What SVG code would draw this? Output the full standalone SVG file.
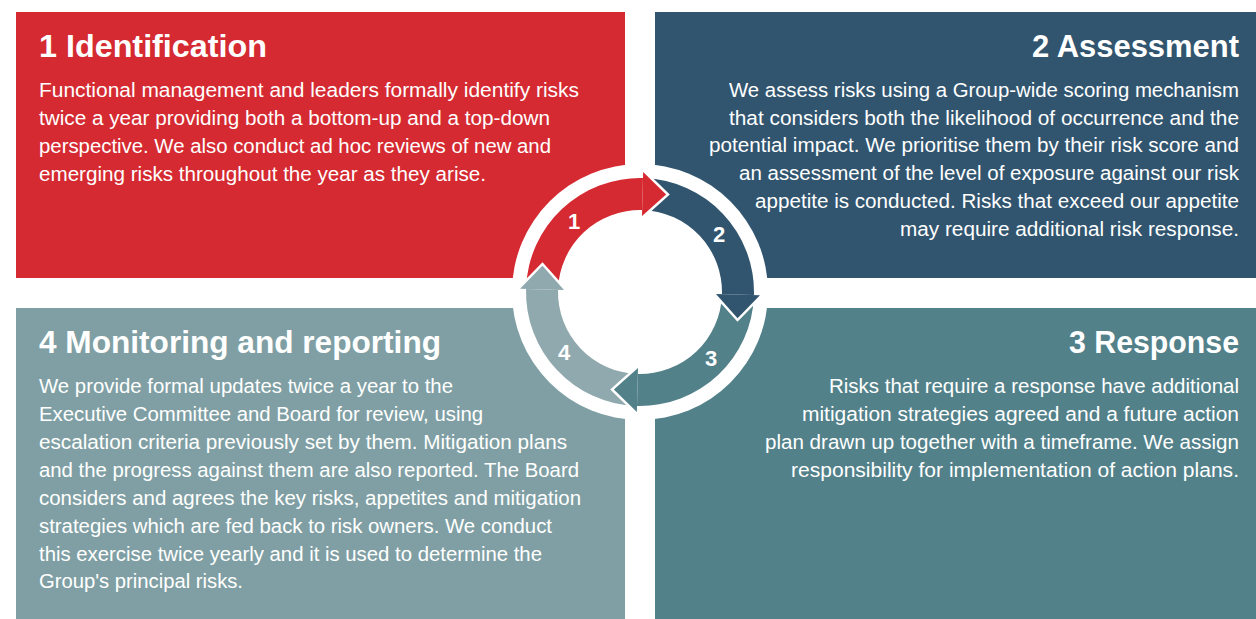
<svg xmlns="http://www.w3.org/2000/svg" width="1256" height="619" viewBox="0 0 1256 619">
<style>
.h{font-family:"Liberation Sans",Arial,sans-serif;font-weight:700;font-size:32px;fill:#fff}
.b{font-family:"Liberation Sans",Arial,sans-serif;font-size:20px;fill:#fff}
.n{font-family:"Liberation Sans",Arial,sans-serif;font-weight:700;font-size:22px;fill:#fff;text-anchor:middle}
.e{text-anchor:end}
.hs{fill:none;stroke:#fff;stroke-width:5;stroke-linejoin:miter}
</style>
<rect width="1256" height="619" fill="#fff"/>
<g id="node-identification">
<rect x="16" y="12" width="609" height="266" fill="#D52A31"/>
<text class="h" x="39" y="57" textLength="228" lengthAdjust="spacingAndGlyphs">1 Identification</text>
<text class="b" x="39" y="97" textLength="540" lengthAdjust="spacingAndGlyphs">Functional management and leaders formally identify risks</text>
<text class="b" x="39" y="125" textLength="511" lengthAdjust="spacingAndGlyphs">twice a year providing both a bottom-up and a top-down</text>
<text class="b" x="39" y="153" textLength="512" lengthAdjust="spacingAndGlyphs">perspective. We also conduct ad hoc reviews of new and</text>
<text class="b" x="39" y="181" textLength="447" lengthAdjust="spacingAndGlyphs">emerging risks throughout the year as they arise.</text>
</g>
<g id="node-assessment">
<rect x="655" y="12" width="601" height="266" fill="#31556F"/>
<text class="h e" x="1239" y="57" textLength="207" lengthAdjust="spacingAndGlyphs">2 Assessment</text>
<text class="b e" x="1239" y="97" textLength="510" lengthAdjust="spacingAndGlyphs">We assess risks using a Group-wide scoring mechanism</text>
<text class="b e" x="1239" y="125" textLength="510" lengthAdjust="spacingAndGlyphs">that considers both the likelihood of occurrence and the</text>
<text class="b e" x="1239" y="152" textLength="530" lengthAdjust="spacingAndGlyphs">potential impact. We prioritise them by their risk score and</text>
<text class="b e" x="1239" y="180" textLength="500" lengthAdjust="spacingAndGlyphs">an assessment of the level of exposure against our risk</text>
<text class="b e" x="1239" y="208" textLength="484" lengthAdjust="spacingAndGlyphs">appetite is conducted. Risks that exceed our appetite</text>
<text class="b e" x="1239" y="236" textLength="339" lengthAdjust="spacingAndGlyphs">may require additional risk response.</text>
</g>
<g id="node-monitoring">
<rect x="16" y="308" width="609" height="311" fill="#7F9FA4"/>
<text class="h" x="39" y="353" textLength="402" lengthAdjust="spacingAndGlyphs">4 Monitoring and reporting</text>
<text class="b" x="39" y="393" textLength="414" lengthAdjust="spacingAndGlyphs">We provide formal updates twice a year to the</text>
<text class="b" x="39" y="421" textLength="444" lengthAdjust="spacingAndGlyphs">Executive Committee and Board for review, using</text>
<text class="b" x="39" y="449" textLength="528" lengthAdjust="spacingAndGlyphs">escalation criteria previously set by them. Mitigation plans</text>
<text class="b" x="39" y="477" textLength="540" lengthAdjust="spacingAndGlyphs">and the progress against them are also reported. The Board</text>
<text class="b" x="39" y="505" textLength="542" lengthAdjust="spacingAndGlyphs">considers and agrees the key risks, appetites and mitigation</text>
<text class="b" x="39" y="533" textLength="513" lengthAdjust="spacingAndGlyphs">strategies which are fed back to risk owners. We conduct</text>
<text class="b" x="39" y="561" textLength="503" lengthAdjust="spacingAndGlyphs">this exercise twice yearly and it is used to determine the</text>
<text class="b" x="39" y="588" textLength="204" lengthAdjust="spacingAndGlyphs">Group's principal risks.</text>
</g>
<g id="node-response">
<rect x="655" y="308" width="601" height="311" fill="#52818A"/>
<text class="h e" x="1239" y="353" textLength="170" lengthAdjust="spacingAndGlyphs">3 Response</text>
<text class="b e" x="1239" y="393" textLength="410" lengthAdjust="spacingAndGlyphs">Risks that require a response have additional</text>
<text class="b e" x="1239" y="421" textLength="437" lengthAdjust="spacingAndGlyphs">mitigation strategies agreed and a future action</text>
<text class="b e" x="1239" y="449" textLength="474" lengthAdjust="spacingAndGlyphs">plan drawn up together with a timeframe. We assign</text>
<text class="b e" x="1239" y="477" textLength="448" lengthAdjust="spacingAndGlyphs">responsibility for implementation of action plans.</text>
</g>
<g id="cycle">
<circle cx="640" cy="292" r="128" fill="#fff"/>
</g>
<g id="connectors">
<path fill="#D52A31" d="M526.07 288.02 A114 114 0 0 1 642.98 178.04 L642.15 210.03 A82 82 0 0 0 558.05 289.14 Z"/>
<path fill="#31556F" d="M643.98 178.07 A114 114 0 0 1 753.96 294.98 L721.97 294.15 A82 82 0 0 0 642.86 210.05 Z"/>
<path fill="#52818A" d="M753.93 295.98 A114 114 0 0 1 637.02 405.96 L637.85 373.97 A82 82 0 0 0 721.95 294.86 Z"/>
<path fill="#90A9AE" d="M636.02 405.93 A114 114 0 0 1 526.04 289.02 L558.03 289.85 A82 82 0 0 0 637.14 373.95 Z"/>
<polyline class="hs" points="641.99,216.03 666.14,194.44 643.14,172.04"/>
<polyline class="hs" points="715.97,293.99 737.56,318.14 759.96,295.14"/>
<polyline class="hs" points="638.01,367.97 613.86,389.56 636.86,411.96"/>
<polyline class="hs" points="564.03,290.01 542.44,265.86 520.04,288.86"/>
<path fill="#D52A31" d="M641.99 216.03 L643.14 172.04 L666.14 194.44 Z"/>
<path fill="#31556F" d="M715.97 293.99 L759.96 295.14 L737.56 318.14 Z"/>
<path fill="#52818A" d="M638.01 367.97 L636.86 411.96 L613.86 389.56 Z"/>
<path fill="#90A9AE" d="M564.03 290.01 L520.04 288.86 L542.44 265.86 Z"/>
</g>
<g id="labels">
<text class="n" x="574" y="229">1</text>
<text class="n" x="719" y="242">2</text>
<text class="n" x="711" y="366">3</text>
<text class="n" x="564" y="360">4</text>
</g>
</svg>
